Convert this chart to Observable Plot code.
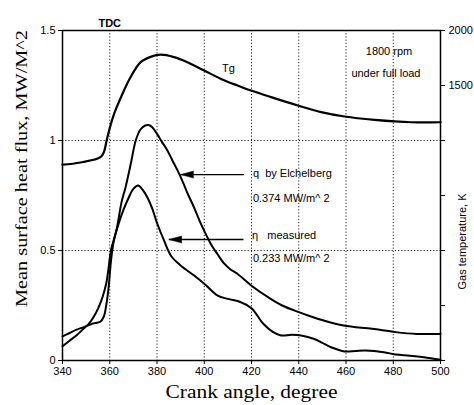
<!DOCTYPE html>
<html>
<head>
<meta charset="utf-8">
<script src="https://cdn.jsdelivr.net/npm/d3@7"></script>
<script src="https://cdn.jsdelivr.net/npm/@observablehq/plot@0.6"></script>
<style>
  html, body { margin: 0; padding: 0; background: #fff; }
</style>
</head>
<body>
<div id="chart"></div>
<script>
// ---- data ----
const eichAngle = [340, 343, 346, 349, 352, 354.5, 356, 357.5, 358.5, 359.5, 360.5, 361.5, 363, 365, 366.7, 368.9, 371, 373, 375, 376.5, 378, 380, 382, 384.4, 386.5, 388.7, 391, 393, 395.5, 398.6, 402.8, 405.5, 408.5, 411, 414, 420, 427, 433, 440, 448, 459, 471, 481, 490, 500];
const eichFlux  = [0.11, 0.125, 0.14, 0.152, 0.165, 0.172, 0.176, 0.2, 0.25, 0.33, 0.45, 0.53, 0.6, 0.72, 0.788, 0.894, 1.0, 1.05, 1.068, 1.07, 1.06, 1.03, 0.995, 0.955, 0.91, 0.864, 0.81, 0.758, 0.7, 0.621, 0.53, 0.485, 0.44, 0.415, 0.394, 0.34, 0.288, 0.25, 0.22, 0.19, 0.159, 0.144, 0.129, 0.121, 0.121];

const measAngle = [340, 343, 346, 349, 351, 353, 355, 357, 358.5, 359.5, 360.5, 362, 364, 366, 368, 370, 372, 374, 376, 378, 380, 383, 386, 390, 395.7, 400, 405.7, 410, 415.5, 420, 425, 429, 432.5, 437, 441, 446.6, 450, 453.7, 459.4, 464, 468, 476, 481, 487, 493, 500];
const measFlux  = [0.065, 0.09, 0.115, 0.145, 0.165, 0.195, 0.235, 0.29, 0.35, 0.42, 0.5, 0.56, 0.63, 0.69, 0.74, 0.78, 0.795, 0.775, 0.74, 0.69, 0.625, 0.545, 0.475, 0.432, 0.386, 0.349, 0.295, 0.28, 0.265, 0.238, 0.167, 0.13, 0.114, 0.117, 0.114, 0.098, 0.08, 0.06, 0.041, 0.043, 0.045, 0.038, 0.027, 0.022, 0.015, 0.003];

const tgAngle  = [340, 347.6, 356.1, 357.5, 358, 359, 361.8, 365.3, 368.9, 373.1, 377.3, 381.6, 387.2, 392.9, 400, 407.1, 414.1, 419.8, 428.3, 439.6, 449.5, 459.4, 472.1, 487.7, 500];
const tgKelvin = [780, 800, 848, 894, 930, 1030, 1240, 1420, 1580, 1712, 1760, 1780, 1758, 1712, 1636, 1560, 1500, 1454, 1394, 1318, 1258, 1218, 1188, 1166, 1166];

// axes / ticks
const angleTicks = [340, 360, 380, 400, 420, 440, 460, 480, 500];
const gridAngles = [360, 380, 400, 420, 440, 460, 480];
const fluxTicks = [0, 0.5, 1, 1.5];
const fluxGrid = [0.5, 1];
const tempTicksK = [2000, 1500, 1000, 500, 0, -500, -1000];
const tempTickLabels = ["2000", "1500", "", "", "", "", ""];

// annotations
const noteText  = ["Tg", "1800 rpm", "under full load", "q  by Elchelberg", "0.374 MW/m^ 2", "η   measured", "0.233 MW/m^ 2"];
const noteAngle = [407.5, 478.2, 476.9, 420.6, 420.6, 420.2, 420.6];
const noteFlux  = [1.327, 1.406, 1.303, 0.85, 0.736, 0.568, 0.464];
const noteAnchor = ["start", "middle", "middle", "start", "start", "start", "start"];

const arrowTipAngle  = [390, 385];
const arrowTailAngle = [416.8, 416.6];
const arrowFlux      = [0.845, 0.55];

// ---- helpers ----
const kToFlux = k => (k + 1000) / 2000; // right axis: -1000..2000 K over 0..1.5
const series = (xs, ys) => xs.map((x, i) => ({x, y: ys[i]}));
const eich = series(eichAngle, eichFlux);
const meas = series(measAngle, measFlux);
const tg = series(tgAngle, tgKelvin.map(kToFlux));
const notes = noteText.map((t, i) => ({t, x: noteAngle[i], y: noteFlux[i], a: noteAnchor[i]}));
const arrows = arrowTipAngle.map((x, i) => ({x1: arrowTailAngle[i], x2: x, y: arrowFlux[i]}));
const tempPos = tempTicksK.map(kToFlux);
const tempLabelMap = new Map(tempPos.map((p, i) => [p, tempTickLabels[i]]));

const sans = "'Liberation Sans', Arial, sans-serif";
const serif = "'Liberation Serif', 'Times New Roman', serif";

const chart = Plot.plot({
  width: 474,
  height: 405,
  marginLeft: 62,
  marginRight: 34,
  marginTop: 30,
  marginBottom: 45,
  style: {fontFamily: sans, fontSize: "11px", color: "black", background: "white"},
  x: {domain: [340, 500]},
  y: {domain: [0, 1.5]},
  marks: [
    Plot.ruleX(gridAngles, {stroke: "#222", strokeWidth: 1, strokeDasharray: "1.2,2"}),
    Plot.ruleY(fluxGrid, {stroke: "#222", strokeWidth: 1, strokeDasharray: "1.2,2"}),
    Plot.frame({stroke: "black", strokeWidth: 1.5}),
    Plot.axisX(angleTicks, {tickSize: 4, tickPadding: 3, label: null, fontSize: 11}),
    Plot.axisY(fluxTicks, {anchor: "left", tickSize: 4, tickPadding: 3, label: null, tickFormat: d => String(d), fontSize: 11}),
    Plot.axisY(tempPos, {anchor: "right", tickSize: 4, tickPadding: 4, label: null, tickFormat: d => tempLabelMap.get(d), fontSize: 11}),
    Plot.line(tg, {x: "x", y: "y", stroke: "black", strokeWidth: 2.2, curve: "catmull-rom"}),
    Plot.line(eich, {x: "x", y: "y", stroke: "black", strokeWidth: 2, curve: "catmull-rom"}),
    Plot.line(meas, {x: "x", y: "y", stroke: "black", strokeWidth: 2, curve: "catmull-rom"}),
    Plot.link(arrows, {x1: "x1", x2: "x2", y1: "y", y2: "y", stroke: "black", strokeWidth: 1.3}),
    Plot.vector(arrows, {x: "x2", y: "y", length: 13, rotate: 270, shape: "spike", anchor: "end", r: 3.5, fill: "black", stroke: "black", strokeWidth: 0.5}),
    Plot.text(notes.filter(d => d.a === "start"), {x: "x", y: "y", text: "t", textAnchor: "start", fontSize: 11, fill: "black"}),
    Plot.text(notes.filter(d => d.a === "middle"), {x: "x", y: "y", text: "t", textAnchor: "middle", fontSize: 11, fill: "black"}),
    Plot.text(["TDC"], {x: 360, frameAnchor: "top", dy: -11, fontSize: 11, fontWeight: "bold"}),
    Plot.text(["Mean surface heat flux, MW/M^2"], {frameAnchor: "left", textAnchor: "middle", lineAnchor: "middle", rotate: -90, dx: -41, dy: -27, fontFamily: serif, fontSize: 17, className: "ylab"}),
    Plot.text(["Gas temperature, K"], {frameAnchor: "right", textAnchor: "middle", lineAnchor: "middle", rotate: -90, dx: 22, dy: 46, fontSize: 11}),
    Plot.text(["Crank angle, degree"], {frameAnchor: "bottom", lineAnchor: "middle", dy: 32, fontFamily: serif, fontSize: 18.5, className: "xlab"})
  ]
});
// stretch the serif titles to the reference's measured lengths
d3.select(chart).selectAll(".ylab text").attr("textLength", 277).attr("lengthAdjust", "spacingAndGlyphs");
d3.select(chart).selectAll(".xlab text").attr("textLength", 172).attr("lengthAdjust", "spacingAndGlyphs");
document.getElementById("chart").appendChild(chart);
</script>
</body>
</html>
